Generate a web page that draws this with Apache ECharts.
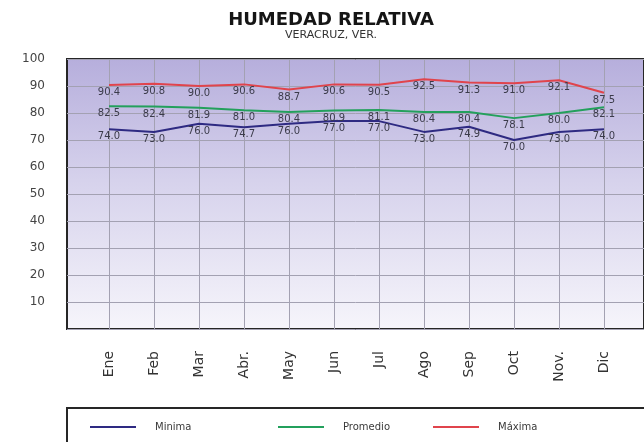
<!DOCTYPE html>
<html>
<head>
<meta charset="utf-8">
<script src="https://cdn.jsdelivr.net/npm/echarts@6/dist/echarts.min.js"></script>
<style>
  html, body { margin: 0; padding: 0; background: #ffffff; }
  #chart { width: 644px; height: 442px; }
</style>
</head>
<body>
<div id="chart"></div>
<script>
// Monthly relative humidity (%) for Veracruz, Ver.
const months = ['Ene', 'Feb', 'Mar', 'Abr.', 'May', 'Jun', 'Jul', 'Ago', 'Sep', 'Oct', 'Nov.', 'Dic'];
const minima   = [74.0, 73.0, 76.0, 74.7, 76.0, 77.0, 77.0, 73.0, 74.9, 70.0, 73.0, 74.0];
const promedio = [82.5, 82.4, 81.9, 81.0, 80.4, 80.9, 81.1, 80.4, 80.4, 78.1, 80.0, 82.1];
const maxima   = [90.4, 90.8, 90.0, 90.6, 88.7, 90.6, 90.5, 92.5, 91.3, 91.0, 92.1, 87.5];
const yTicks = [0, 10, 20, 30, 40, 50, 60, 70, 80, 90, 100];

const FONT = 'DejaVu Sans';
const colors = { min: '#2e2a82', avg: '#23a05c', max: '#e0444c' };

const chart = echarts.init(document.getElementById('chart'), null, { renderer: 'canvas' });

function lineSeries(name, data, color) {
  return {
    name: name,
    type: 'line',
    xAxisIndex: 0,
    yAxisIndex: 0,
    data: data,
    symbol: 'circle',
    symbolSize: 1,
    showSymbol: true,
    lineStyle: { color: color, width: 2 },
    itemStyle: { color: color, opacity: 0 },
    label: {
      show: true,
      position: 'bottom',
      distance: 2,
      fontFamily: FONT,
      fontSize: 10,
      color: '#3b3b4a',
      opacity: 1,
      formatter: p => p.value.toFixed(1)
    },
    labelLayout: { hideOverlap: false },
    z: 5
  };
}

function legendItem(name, left, color) {
  return {
    data: [name],
    left: left,
    top: 417,
    icon: 'rect',
    itemWidth: 46,
    itemHeight: 2,
    itemGap: 0,
    itemStyle: { color: color, opacity: 1 },
    textStyle: { fontFamily: FONT, fontSize: 10, color: '#3a3a3a', padding: [0, 0, 0, 14] },
    selectedMode: false
  };
}

const option = {
  animation: false,
  title: {
    text: 'HUMEDAD RELATIVA',
    subtext: 'VERACRUZ, VER.',
    left: 326,
    textAlign: 'center',
    top: 6,
    itemGap: 1,
    textStyle: { fontFamily: FONT, fontSize: 18, fontWeight: 900, color: '#151515' },
    subtextStyle: { fontFamily: FONT, fontSize: 11, color: '#333' }
  },
  graphic: [{
    type: 'rect',
    shape: { x: 67, y: 408, width: 600, height: 60 },
    style: { fill: '#ffffff', stroke: '#262626', lineWidth: 2 },
    z: -1
  }],
  legend: [
    legendItem('Minima', 85, colors.min),
    legendItem('Promedio', 273, colors.avg),
    legendItem('Máxima', 428, colors.max)
  ],
  grid: [
    { left: 109, right: 40, top: 59, bottom: 113, show: false },
    {
      left: 67, right: -30, top: 59, bottom: 113, show: true,
      borderColor: '#262626', borderWidth: 2,
      backgroundColor: new echarts.graphic.LinearGradient(0, 0, 0, 1, [
        { offset: 0, color: '#b6aedc' },
        { offset: 0.45, color: '#d6d2ec' },
        { offset: 1, color: '#f6f5fb' }
      ])
    }
  ],
  xAxis: [
    {
      gridIndex: 0,
      type: 'category',
      data: months,
      boundaryGap: false,
      axisLine: { show: false },
      axisTick: { show: false },
      splitLine: { show: true, lineStyle: { color: '#a3a1b2', width: 1 } },
      axisLabel: { rotate: 90, margin: 22, fontFamily: FONT, fontSize: 14, color: '#333' }
    },
    { gridIndex: 1, type: 'value', min: 0, max: 1, show: false }
  ],
  yAxis: [
    { gridIndex: 0, type: 'value', min: 0, max: 100, show: false },
    {
      gridIndex: 1,
      type: 'value',
      min: yTicks[0],
      max: yTicks[yTicks.length - 1],
      interval: 10,
      axisLine: { show: false },
      axisTick: { show: false },
      splitLine: { show: true, lineStyle: { color: '#a3a1b2', width: 1 } },
      axisLabel: {
        margin: 22,
        fontFamily: FONT,
        fontSize: 12,
        color: '#444',
        formatter: v => (v === 0 ? '' : String(v))
      }
    }
  ],
  series: [
    lineSeries('Minima', minima, colors.min),
    lineSeries('Promedio', promedio, colors.avg),
    lineSeries('Máxima', maxima, colors.max)
  ]
};

chart.setOption(option);
</script>
</body>
</html>
